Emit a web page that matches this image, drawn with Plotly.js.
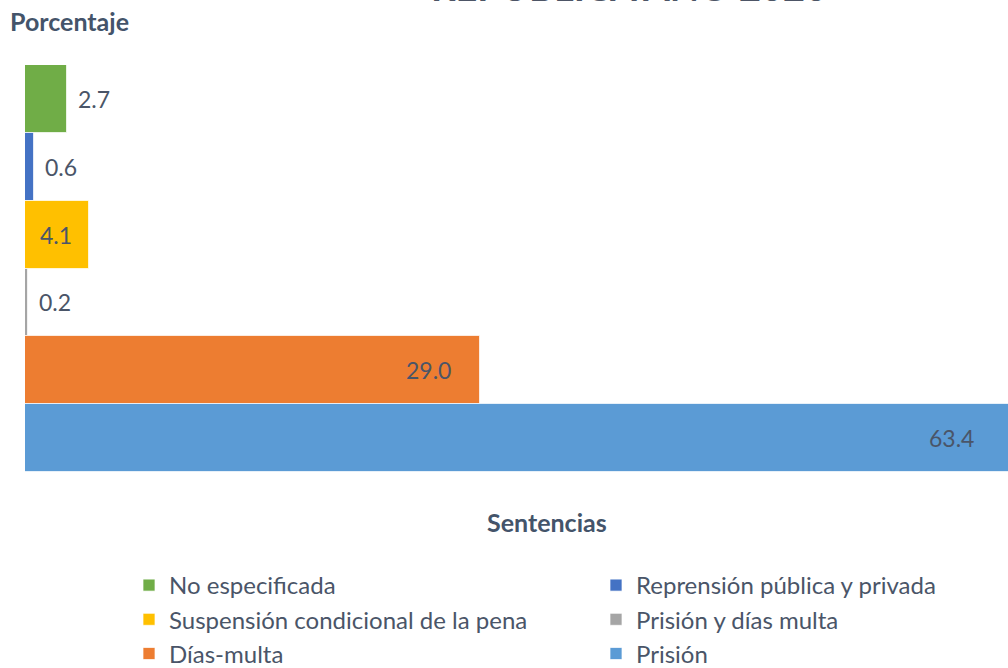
<!DOCTYPE html>
<html><head><meta charset="utf-8">
<script src="https://cdn.plot.ly/plotly-3.0.1.min.js"></script>
<style>html,body{margin:0;padding:0;overflow:hidden;background:#fff}#chart{width:1100px;height:700px}</style>
</head><body><div id="chart"></div>
<script>
const categories = ["No especificada","Reprensión pública y privada","Suspensión condicional de la pena","Prisión y días multa","Días-multa","Prisión"];
const values = [2.7, 0.6, 4.1, 0.2, 29.0, 63.4];
const colors = ["#70ad47","#4472c4","#ffc000","#a5a5a5","#ed7d31","#5b9bd5"];
const titleText = "REPÚBLICA AÑO 2020";
const yTitle = "Porcentaje";
const xTitle = "Sentencias";

const FONT = "Lato, 'Open Sans', sans-serif";
const TXT = "#4a5568";
const W = 1100, H = 700, L = 25, T = 65, PB = 472;
const PW = W - L, PH = PB - T;
const px2x = p => (p - L) / PW;
const px2y = p => (PB - p) / PH;

const traces = categories.map((c, i) => ({
  type: 'bar', orientation: 'h',
  x: [values[i]], y: [c], name: c, width: 1,
  marker: {color: colors[i], line: {color: 'rgba(255,255,255,0.7)', width: 1}},
  hovertemplate: '%{y}: %{x:.1f}<extra></extra>'
}));

const labelAnns = categories.map((c, i) => {
  const v = values[i];
  const inside = v >= 4;
  return {
    xref: 'x', yref: 'y', x: v, y: c,
    text: v.toFixed(1), showarrow: false,
    xanchor: inside ? 'right' : 'left',
    xshift: inside ? -(13 + 0.49 * v) : 9,
    font: {family: FONT, size: 23, color: TXT}
  };
});

const layout = {
  width: W, height: H,
  margin: {l: L, r: 0, t: T, b: H - PB},
  paper_bgcolor: '#fff', plot_bgcolor: '#fff',
  barmode: 'overlay', bargap: 0,
  xaxis: {range: [0, PW / 15.69], visible: false, fixedrange: true},
  yaxis: {range: [5.5, -0.5], visible: false, fixedrange: true},
  showlegend: true,
  legend: {
    orientation: 'h', traceorder: 'normal',
    xref: 'paper', yref: 'paper',
    x: px2x(129), y: px2y(563),
    xanchor: 'left', yanchor: 'top',
    entrywidth: 422, entrywidthmode: 'pixels',
    itemwidth: 30,
    font: {family: FONT, size: 24, color: TXT}
  },
  annotations: labelAnns.concat([
    {xref: 'paper', yref: 'paper', x: px2x(629), y: px2y(11),
     xanchor: 'center', yanchor: 'bottom', showarrow: false, text: '<b>' + titleText + '</b>',
     font: {family: FONT, size: 38, color: '#4d5566'}},
    {xref: 'paper', yref: 'paper', x: px2x(8), y: px2y(21),
     xanchor: 'left', yanchor: 'middle', showarrow: false, text: '<b>' + yTitle + '</b>',
     font: {family: FONT, size: 25, color: '#44546a'}},
    {xref: 'paper', yref: 'paper', x: px2x(547), y: px2y(522),
     xanchor: 'center', yanchor: 'middle', showarrow: false, text: '<b>' + xTitle + '</b>',
     font: {family: FONT, size: 25, color: '#44546a'}}
  ])
};

Plotly.newPlot('chart', traces, layout, {displayModeBar: false});
</script>
</body></html>
